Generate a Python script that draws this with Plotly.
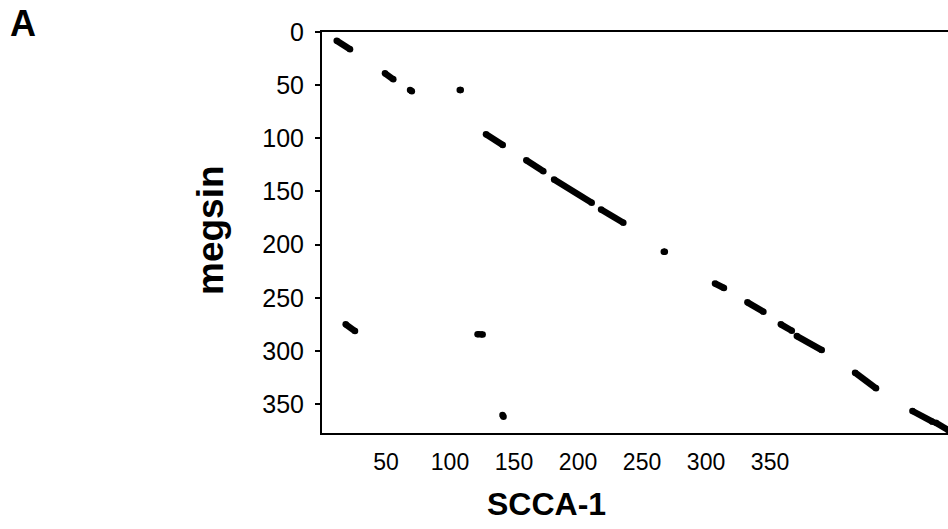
import plotly.graph_objects as go

# Dot-plot segments (SCCA-1 residue vs megsin residue)
x_start = [11.5, 49.2, 68.8, 107.6, 128.1, 159.6, 181.3, 218.0, 267.0, 307.0, 332.3, 358.4, 370.9, 416.4, 461.2, 479.5, 18.5, 121.5, 141.0]
x_end   = [21.9, 55.7, 70.2, 108.4, 141.2, 172.9, 210.7, 235.4, 267.8, 314.0, 344.8, 367.0, 390.4, 432.8, 476.8, 489.1, 25.8, 125.5, 141.8]
y_start = [8.2, 38.9, 54.6, 54.6, 96.2, 120.7, 138.8, 167.0, 206.7, 236.6, 254.3, 275.0, 286.0, 320.5, 356.5, 367.5, 275.0, 284.2, 360.2]
y_end   = [16.3, 44.5, 55.8, 54.6, 106.3, 131.0, 160.6, 179.4, 206.7, 240.8, 263.1, 281.0, 299.2, 335.2, 366.6, 374.4, 281.3, 284.6, 362.0]

x_ticks = [50, 100, 150, 200, 250, 300, 350]
y_ticks = [0, 50, 100, 150, 200, 250, 300, 350]

xs, ys = [], []
for a, b, c, d in zip(x_start, x_end, y_start, y_end):
    xs += [a, b, None]
    ys += [c, d, None]

fig = go.Figure()
fig.add_trace(go.Scatter(
    x=xs, y=ys, mode="lines+markers",
    line=dict(color="black", width=6.5),
    marker=dict(color="black", size=6.5),
    connectgaps=False, hoverinfo="skip", showlegend=False,
))

font = "Liberation Sans, Arial, Helvetica, sans-serif"

fig.update_layout(
    width=948, height=529,
    margin=dict(l=322, r=0, t=32, b=96),
    paper_bgcolor="white", plot_bgcolor="white",
    font=dict(family=font, color="black"),
    xaxis=dict(
        range=[0, 489], tickvals=x_ticks, ticktext=[str(v) for v in x_ticks],
        showgrid=False, zeroline=False, showline=True, linecolor="black",
        linewidth=2, mirror=True, ticks="", ticklabelstandoff=7,
        tickfont=dict(size=23, family=font, color="black"),
    ),
    yaxis=dict(
        range=[377.2, 0], tickvals=y_ticks, ticktext=[str(v) for v in y_ticks],
        showgrid=False, zeroline=False, showline=True, linecolor="black",
        linewidth=2, ticks="outside", ticklen=5, tickwidth=1.5, tickcolor="black",
        ticklabelstandoff=6,
        tickfont=dict(size=25, family=font, color="black"),
    ),
    annotations=[
        dict(text="<b>SCCA-1</b>", xref="paper", yref="paper",
             x=(546 - 322) / 626, y=(529 - 504 - 96) / 401,
             xanchor="center", yanchor="middle", showarrow=False,
             font=dict(size=32, family=font, color="black")),
        dict(text="<b>megsin</b>", xref="paper", yref="paper",
             x=(210 - 322) / 626, y=(433 - 230) / 401, textangle=-90,
             xanchor="center", yanchor="middle", showarrow=False,
             font=dict(size=37, family=font, color="black")),
        dict(text="<b>A</b>", xref="paper", yref="paper",
             x=(23 - 322) / 626, y=(433 - 24) / 401,
             xanchor="center", yanchor="middle", showarrow=False,
             font=dict(size=36, family=font, color="black")),
    ],
)

fig.write_html(
    "out.html",
    config={"displayModeBar": False},
    post_script="document.body.style.margin='0';document.body.style.overflow='hidden';",
)
